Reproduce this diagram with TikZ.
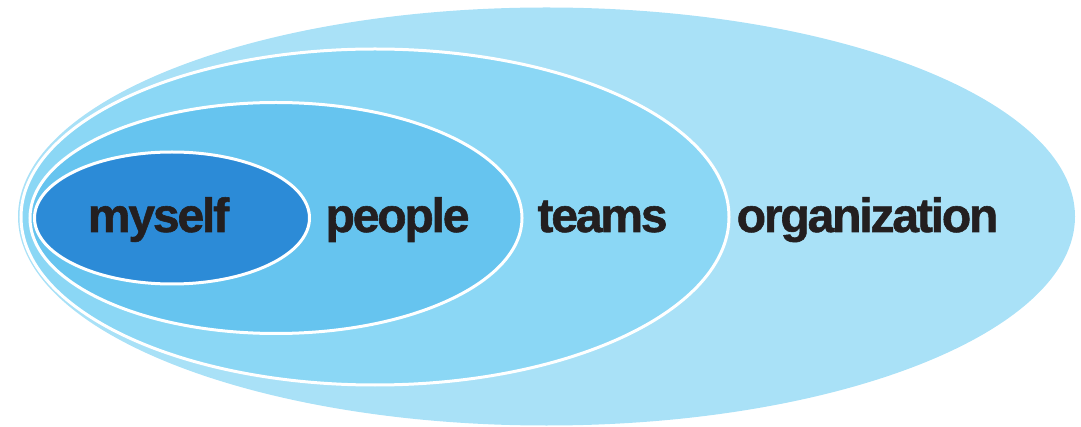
\documentclass[tikz,border=0pt]{standalone}
\usepackage{fontspec}
\setmainfont{Liberation Sans}
\newfontfamily\wordfont[LetterSpace=-4.5, FakeBold=1.2]{Liberation Sans Bold}
\usepackage{tikz}
\usetikzlibrary{positioning}
\usetikzlibrary{shapes}

\definecolor{orgblue}{HTML}{A9E1F7}
\definecolor{teamblue}{HTML}{8BD7F5}
\definecolor{peopleblue}{HTML}{66C4EF}
\definecolor{selfblue}{HTML}{2C8BD7}
\definecolor{textblack}{HTML}{231F20}

\tikzset{
  ring/.style={ellipse, inner sep=0pt, line width=3pt},
  word/.style={anchor=base, inner sep=0pt, text=textblack,
    font=\fontsize{48}{48}\wordfont}
}

\begin{document}
\begin{tikzpicture}[x=1pt, y=-1pt]
				\useasboundingbox (0,0) rectangle (1081,427);
				\node[ring, fill=orgblue, minimum width=1057pt, minimum height=418pt] (O) at (546.5,216.5) {};
				\node[ring, draw=white, fill=teamblue, minimum width=708pt, minimum height=336pt] (T) at (375,217) {};
				\node[ring, draw=white, fill=peopleblue, minimum width=492pt, minimum height=231pt] (P) at (276,218) {};
				\node[ring, draw=white, fill=selfblue, minimum width=275pt, minimum height=132pt] (M) at (172,218) {};
				
				\node[word] (m) at (158.5,232) {myself};
				\node[word] (p) at (397.5,232) {people};
				\node[word] (t) at (602.5,232) {teams};
				\node[word] (o) at (867.5,232) {organization};
			\end{tikzpicture}
\end{document}
